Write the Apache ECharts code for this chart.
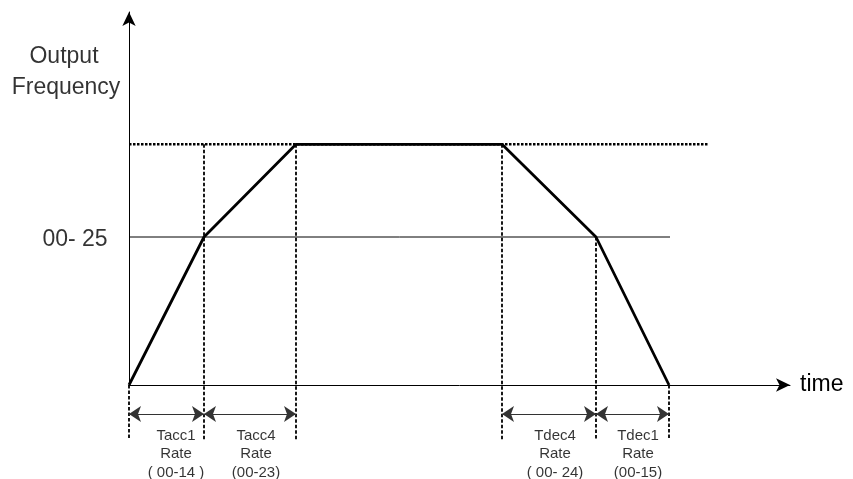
<!DOCTYPE html>
<html><head><meta charset="utf-8">
<script src="https://cdn.jsdelivr.net/npm/echarts@6/dist/echarts.min.js"></script>
<style>html,body{margin:0;padding:0;background:#fff}#c{width:853px;height:479px}</style>
</head><body><div id="c"></div>
<script>
// time breakpoints (arbitrary units) and frequency (% of max)
const times = [0, 75, 167, 373, 467, 540];
const freq = [0, 61.5, 100, 100, 61.5, 0];
const fMax = 100, f25 = 61.5;
const yTop = 155, xEnd = 661;
const maxLineEnd = 580, midLineEnd = 541;
const dashBottom = -22.9, arrowY = -12;
const labelRows = [-21.3, -28.8, -36.4];
const spans = [[0, 75], [75, 167], [373, 467], [467, 540]];
const spanLabelX = [47, 127, 426, 509];
const spanLabels = [
  ['Tacc1', 'Rate', '( 00-14 )'],
  ['Tacc4', 'Rate', '(00-23)'],
  ['Tdec4', 'Rate', '( 00- 24)'],
  ['Tdec1', 'Rate', '(00-15)']
];
const yAxisTitle = ['Output', 'Frequency'];
const midLabel = '00- 25';

const font = 'Liberation Sans, Arial, sans-serif';
const chart = echarts.init(document.getElementById('c'));

// vertical dashed guides: [x, yFrom]
const guideTops = [[times[0], 0], [times[1], fMax], [times[2], fMax], [times[3], fMax], [times[4], f25], [times[5], 0]];
const dashV = guideTops.map(g => ({coords: [[g[0], g[1]], [g[0], dashBottom]]}));
const arrows = spans.map(s => ({coords: [[s[0], arrowY], [s[1], arrowY]]}));

const textPts = [];
spans.forEach((s, i) => {
  spanLabels[i].forEach((t, j) => {
    textPts.push({value: [spanLabelX[i], labelRows[j]], label: {formatter: t}});
  });
});
textPts.push({value: [-65, 136.5], label: {formatter: yAxisTitle[0], fontSize: 23}});
textPts.push({value: [-63, 123.5], label: {formatter: yAxisTitle[1], fontSize: 23}});
textPts.push({value: [-54, f25 - 1.2], label: {formatter: midLabel, fontSize: 23}});

chart.setOption({
  animation: false,
  grid: {left: 129, right: 63, top: 12, bottom: 94},
  xAxis: {
    type: 'value', min: 0, max: xEnd,
    axisLine: {show: true, symbol: ['none', 'arrow'], symbolSize: [10, 14], lineStyle: {color: '#000', width: 1}},
    axisTick: {show: false}, axisLabel: {show: false}, splitLine: {show: false},
    name: 'time', nameLocation: 'end', nameGap: 10,
    nameTextStyle: {color: '#000', fontSize: 23, fontFamily: font, padding: [0, 0, 2, 0]}
  },
  yAxis: {
    type: 'value', min: 0, max: yTop,
    axisLine: {show: true, symbol: ['none', 'arrow'], symbolSize: [10, 14], lineStyle: {color: '#000', width: 1}},
    axisTick: {show: false}, axisLabel: {show: false}, splitLine: {show: false}
  },
  series: [
    {
      type: 'line', data: [[0, f25], [midLineEnd, f25]], symbol: 'none', clip: false,
      lineStyle: {color: '#000', width: 1}, z: 1
    },
    {
      type: 'line', data: [[0, fMax], [maxLineEnd, fMax]], symbol: 'none', clip: false,
      lineStyle: {color: '#000', width: 2.5, type: [2.5, 1.5]}, z: 1
    },
    {
      type: 'lines', coordinateSystem: 'cartesian2d', clip: false, silent: true,
      data: dashV, symbol: 'none', z: 2,
      lineStyle: {color: '#000', width: 1.8, type: [3.5, 2], opacity: 1}
    },
    {
      type: 'lines', coordinateSystem: 'cartesian2d', clip: false, silent: true,
      data: arrows, symbol: ['arrow', 'arrow'], symbolSize: 12, z: 2,
      lineStyle: {color: '#333', width: 1.2, type: 'solid', opacity: 1}
    },
    {
      type: 'line', data: times.map((t, i) => [t, freq[i]]), symbol: 'none', clip: false,
      lineStyle: {color: '#000', width: 2.8}, z: 5
    },
    {
      type: 'scatter', data: textPts, symbolSize: 0, clip: false, silent: true,
      label: {show: true, position: 'inside', color: '#000', fontSize: 15, fontFamily: font}
    }
  ]
});
</script></body></html>
